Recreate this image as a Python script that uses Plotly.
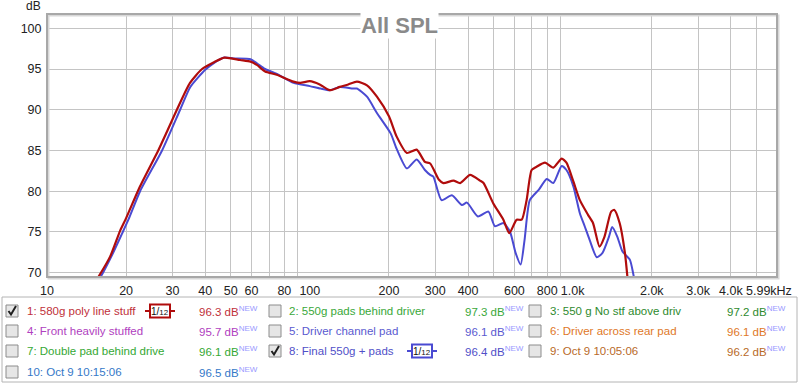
import math
import plotly.graph_objects as go

# ---------------- data ----------------
freq_red = [15.2, 15.7, 17.4, 19.0, 20.0, 22.6, 26.5, 28.5, 31.2, 35.0, 38.9, 43.0, 47.3, 54.3,
            59.5, 62.9, 67.6, 74.8, 86.7, 92, 100, 109, 119, 130, 140, 151, 165, 180, 200, 214,
            234, 255, 274, 287, 310, 322, 352, 373, 407, 444, 458, 499, 545, 574, 612, 640, 668,
            698, 729, 785, 844, 908, 947, 1006, 1065, 1144, 1195, 1265, 1321, 1401, 1441, 1509,
            1581, 1613, 1640]
spl_red = [68.8, 69.5, 72.0, 75.2, 76.7, 80.6, 85.0, 87.2, 90.0, 93.3, 95.0, 95.8, 96.4, 96.1,
           95.9, 95.5, 94.7, 94.3, 93.45, 93.3, 93.5, 93.1, 92.4, 92.8, 93.1, 93.45, 93.0, 91.6, 89.2, 86.7,
           84.7, 85.1, 83.6, 83.4, 81.4, 81.0, 81.3, 81.0, 82.0, 81.3, 81.0, 78.5, 76.5, 74.85, 76.5, 76.5, 78.9,
           82.6, 83.0, 83.5, 82.9, 84.0, 83.5, 81.2, 78.9, 77.1, 76.1, 73.2, 74.4, 77.5, 77.7, 76.1,
           72.4, 69.7, 67.0]

freq_blue = [15.4, 16.0, 17.7, 19.3, 20.4, 22.6, 27.4, 32.1, 35.1, 40, 43, 47.3, 51.3, 59.5, 62.9,
             67.6, 75, 86.7, 100, 110, 119, 130, 146, 151, 165, 180, 203, 214, 234, 255, 274, 287,
             295, 317, 347, 379, 396, 436, 478, 506, 545, 578, 607, 634, 656, 687, 744, 797, 844,
             908, 947, 1006, 1065, 1111, 1161, 1235, 1297, 1374, 1414, 1479, 1547, 1650, 1697, 1730]
spl_blue = [68.8, 69.5, 72.2, 74.8, 76.5, 80.0, 85.0, 90.0, 92.8, 94.9, 95.7, 96.4, 96.3, 96.2, 95.7,
            95.0, 94.4, 93.3, 92.9, 92.6, 92.4, 92.8, 92.6, 92.6, 91.6, 89.6, 87.1, 85.2, 82.8, 83.9, 82.6, 82.0,
            81.8, 78.9, 79.5, 78.3, 78.6, 76.9, 77.5, 75.7, 76.1, 75.0, 72.4, 71.0, 74.0, 78.9, 80.2, 81.5, 81.0,
            83.1, 82.6, 80.6, 77.3, 75.7, 74.0, 71.9, 72.4, 74.4, 75.6, 74.4, 72.6, 71.6, 70.0, 68.5]

x_tick_vals = [10, 20, 30, 40, 50, 60, 80, 100, 200, 300, 400, 600, 800, 1000, 2000, 3000, 4000]
x_tick_text = ["10", "20", "30", "40", "50", "60", "80", "100", "200", "300", "400", "600", "800",
               "1.0k", "2.0k", "3.0k", "4.0k"]
x_end_label = "5.99kHz"
x_grid_vals = [20, 30, 40, 50, 60, 70, 80, 90, 200, 300, 400, 500, 600, 700, 800, 900,
               2000, 3000, 4000, 5000]
y_tick_vals = [70, 75, 80, 85, 90, 95, 100]

legend_labels = ["1: 580g poly line stuff", "2: 550g pads behind driver", "3: 550 g No stf above driv",
                 "4: Front heavily stuffed", "5: Driver channel pad", "6: Driver across rear pad",
                 "7: Double pad behind drive", "8: Final 550g + pads", "9: Oct 9 10:05:06",
                 "10: Oct 9 10:15:06"]
legend_values = ["96.3", "97.3", "97.2", "95.7", "96.1", "96.1", "96.1", "96.4", "96.2", "96.5"]
legend_colors = ["#c0303a", "#3aa83a", "#2e8a2e", "#b040c0", "#5a5ad0", "#e07828", "#34a834",
                 "#5050c8", "#b86a28", "#3478c8"]
legend_checked = [True, False, False, False, False, False, False, True, False, False]
legend_smooth = [True, False, False, False, False, False, False, True, False, False]

RED = "#b00c0c"
BLUE = "#4a4ad2"

# ---------------- geometry ----------------
W, H = 800, 385
L, R, T, B = 47, 23, 14, 108
PW, PH = W - L - R, H - T - B


def px(x):
    return (x - L) / PW


def py(y):
    return (H - B - y) / PH


fig = go.Figure()
fig.add_trace(go.Scatter(x=freq_blue, y=spl_blue, mode="lines", line=dict(color=BLUE, width=2, shape="spline", smoothing=0.6),
                         hoverinfo="skip", showlegend=False))
fig.add_trace(go.Scatter(x=freq_red, y=spl_red, mode="lines", line=dict(color=RED, width=2.2, shape="spline", smoothing=0.6),
                         hoverinfo="skip", showlegend=False))

shapes = []
annotations = []

# darker decade lines
for v in (100, 1000):
    shapes.append(dict(type="line", xref="x", yref="paper", x0=math.log10(v), x1=math.log10(v), y0=0, y1=1,
                       line=dict(color="#7a7a7a", width=1), layer="below"))
# plot frame
shapes.append(dict(type="rect", xref="paper", yref="paper", x0=px(L + 1.5), x1=px(W - R + 1.5), y0=py(H - B + 1.5), y1=py(T + 1.5),
                   line=dict(color="#d8d8d8", width=2), layer="above"))
shapes.append(dict(type="rect", xref="paper", yref="paper", x0=0, x1=1, y0=0, y1=1,
                   line=dict(color="#a8a8a8", width=2), layer="above"))

# title
annotations.append(dict(text="<b>All SPL</b>", xref="paper", yref="paper", x=px(399), y=py(26),
                        showarrow=False, font=dict(family="Liberation Sans, Arial", size=22, color="#8a8a8a"),
                        bgcolor="white", borderpad=0, xanchor="center", yanchor="middle"))
annotations.append(dict(text="dB", xref="paper", yref="paper", x=px(33), y=py(6), showarrow=False,
                        font=dict(family="Liberation Sans, Arial", size=12, color="#222"),
                        xanchor="center", yanchor="middle"))
# end-of-axis label
annotations.append(dict(text=x_end_label, xref="paper", yref="paper", x=px(794), y=py(291), showarrow=False,
                        font=dict(family="Liberation Sans, Arial", size=12.5, color="#222"),
                        xanchor="right", yanchor="middle"))

# legend box
shapes.append(dict(type="rect", xref="paper", yref="paper", x0=px(2), x1=px(797), y0=py(382), y1=py(297),
                   line=dict(color="#b4b4b4", width=1), fillcolor="white", layer="above"))

row_y = [311, 331, 351, 372]
col_box = [12, 275, 535]
col_text = [25, 287, 548]
col_val = [197, 463, 725]

for i, (lab, val, col) in enumerate(zip(legend_labels, legend_values, legend_colors)):
    r, c = divmod(i, 3)
    yc = row_y[r]
    bx = col_box[c]
    shapes.append(dict(type="rect", xref="paper", yref="paper", x0=px(bx - 6), x1=px(bx + 6), y0=py(yc + 6), y1=py(yc - 6),
                       line=dict(color="#8c8c8c", width=1), fillcolor="#e6e6e6", layer="above"))
    if legend_checked[i]:
        path = "M {:.5f},{:.5f} L {:.5f},{:.5f} L {:.5f},{:.5f}".format(
            px(bx - 3.5), py(yc), px(bx - 1), py(yc + 3.5), px(bx + 4), py(yc - 5))
        shapes.append(dict(type="path", xref="paper", yref="paper", path=path,
                           line=dict(color="#202020", width=2), layer="above"))
    annotations.append(dict(text=lab, xref="paper", yref="paper", x=px(col_text[c]), y=py(yc), showarrow=False,
                            font=dict(family="Liberation Sans, Arial", size=11.5, color=col),
                            xanchor="left", yanchor="middle"))
    annotations.append(dict(text=val + " dB<sup><span style='color:#9a9aff'>NEW</span></sup>", xref="paper", yref="paper",
                            x=px(col_val[c]), y=py(yc), showarrow=False,
                            font=dict(family="Liberation Sans, Arial", size=11.5, color=col),
                            xanchor="left", yanchor="middle"))
    if legend_smooth[i]:
        ix = col_text[c] + 120
        lc = RED if i == 0 else BLUE
        shapes.append(dict(type="line", xref="paper", yref="paper", x0=px(ix), x1=px(ix + 30), y0=py(yc), y1=py(yc),
                           line=dict(color=lc, width=2), layer="above"))
        shapes.append(dict(type="rect", xref="paper", yref="paper", x0=px(ix + 5), x1=px(ix + 25), y0=py(yc + 6.5), y1=py(yc - 6.5),
                           line=dict(color=lc, width=2), fillcolor="white", layer="above"))
        annotations.append(dict(text="1/<span style='font-size:8px'>12</span>", xref="paper", yref="paper",
                                x=px(ix + 15), y=py(yc), showarrow=False,
                                font=dict(family="Liberation Sans, Arial", size=10, color="#111"),
                                xanchor="center", yanchor="middle"))

fig.update_layout(
    width=W, height=H,
    margin=dict(l=L, r=R, t=T, b=B, pad=0, autoexpand=False),
    paper_bgcolor="white", plot_bgcolor="white",
    shapes=shapes, annotations=annotations,
    font=dict(family="Liberation Sans, Arial", size=12, color="#222"),
    xaxis=dict(type="log", range=[1, math.log10(5990)], tickvals=x_tick_vals, ticktext=x_tick_text,
               showgrid=False, zeroline=False, showline=False, ticks="outside", ticklen=2, tickcolor="rgba(0,0,0,0)",
               tickfont=dict(size=12.5), automargin=False,
               minor=dict(tickvals=x_grid_vals, showgrid=True, gridcolor="#c4c4c4", gridwidth=1, ticks="")),
    yaxis=dict(range=[69.47, 101.75], tickvals=y_tick_vals, showgrid=True, gridcolor="#c4c4c4", gridwidth=1,
               zeroline=False, showline=False, ticks="outside", ticklen=2, tickcolor="rgba(0,0,0,0)", tickfont=dict(size=12.5),
               automargin=False),
)

fig.write_html("out.html", config={"displayModeBar": False},
               post_script="document.body.style.margin='0';document.body.style.overflow='hidden';")
